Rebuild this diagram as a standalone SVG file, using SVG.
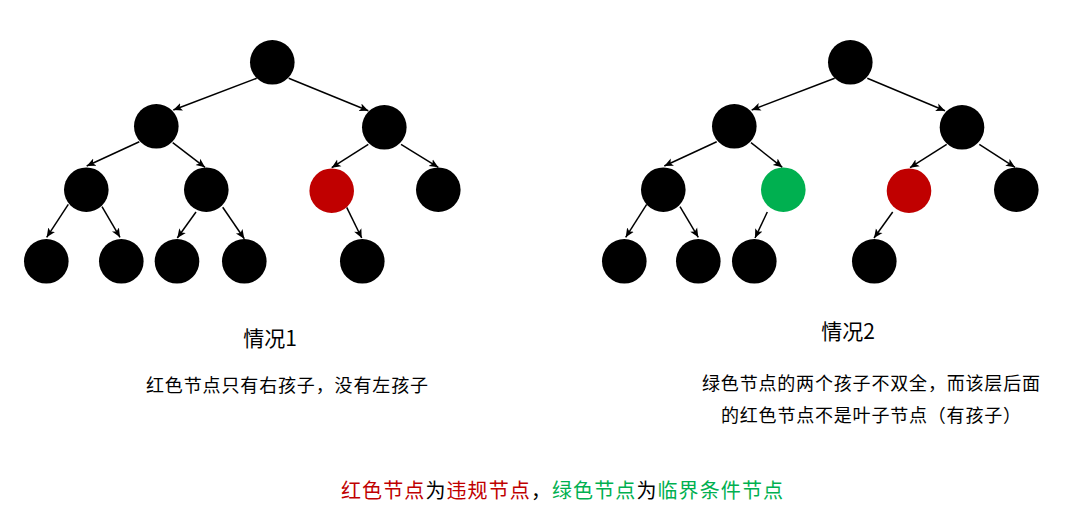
<svg xmlns="http://www.w3.org/2000/svg" width="1091" height="531" viewBox="0 0 1091 531">
<style>
.n{fill:#000}
.red{fill:#C00000}
.green{fill:#00B050}
.e{stroke:#000;stroke-width:1.5;fill:none;marker-end:url(#arr)}
text{font-family:"Noto Sans CJK SC","Microsoft YaHei",sans-serif;fill:#000}
.t{font-size:21px}
.d{font-size:18px}
.f{font-size:20px}
.tr{fill:#C00000}
.tg{fill:#00B050}
</style>
<defs>
<marker id="arr" markerUnits="userSpaceOnUse" markerWidth="10" markerHeight="10" viewBox="0 0 10 8" refX="9" refY="4" orient="auto">
<path d="M0,0 L9,4 L0,8 L2.2,4 Z" fill="#000"/>
</marker>
</defs>
<rect width="1091" height="531" fill="#fff"/>
<g id="connectors">
<line class="e" x1="256.7" y1="78.3" x2="173.3" y2="110"/>
<line class="e" x1="288.7" y1="78.3" x2="368.3" y2="110.7"/>
<line class="e" x1="139.3" y1="141.7" x2="86.7" y2="166"/>
<line class="e" x1="172.7" y1="142.7" x2="205" y2="167.3"/>
<line class="e" x1="368.3" y1="144.3" x2="331.7" y2="167.7"/>
<line class="e" x1="401" y1="144.3" x2="438.3" y2="167.3"/>
<line class="e" x1="68.3" y1="204.3" x2="46.7" y2="237.3"/>
<line class="e" x1="102" y1="206.7" x2="120" y2="237.3"/>
<line class="e" x1="196" y1="212" x2="177.3" y2="238"/>
<line class="e" x1="222.7" y1="207.3" x2="244.3" y2="238.7"/>
<line class="e" x1="346.7" y1="207.3" x2="361.7" y2="238"/>
<line class="e" x1="834.7" y1="78.3" x2="751.7" y2="110"/>
<line class="e" x1="867.3" y1="78.3" x2="945" y2="110.7"/>
<line class="e" x1="716.7" y1="141.7" x2="664.3" y2="166"/>
<line class="e" x1="751" y1="142.7" x2="782.3" y2="167.3"/>
<line class="e" x1="946.7" y1="144.3" x2="910" y2="167.7"/>
<line class="e" x1="979.3" y1="144.3" x2="1015" y2="167.3"/>
<line class="e" x1="646.7" y1="204.3" x2="625.7" y2="237.3"/>
<line class="e" x1="680" y1="206.7" x2="698.3" y2="237.3"/>
<line class="e" x1="767.3" y1="212" x2="755" y2="238"/>
<line class="e" x1="892.7" y1="212" x2="874" y2="238"/>
</g>
<g id="t1-root"><circle class="n" cx="272.3" cy="62.3" r="22.3"/></g>
<g id="t1-l1a"><circle class="n" cx="156.3" cy="126.3" r="22.3"/></g>
<g id="t1-l1b"><circle class="n" cx="384.3" cy="127.3" r="22.3"/></g>
<g id="t1-l2a"><circle class="n" cx="86.3" cy="189.7" r="22.3"/></g>
<g id="t1-l2b"><circle class="n" cx="206.3" cy="189.7" r="22.3"/></g>
<g id="t1-l2c"><circle class="red" cx="331.7" cy="190.7" r="22.3"/></g>
<g id="t1-l2d"><circle class="n" cx="438.3" cy="189.7" r="22.3"/></g>
<g id="t1-l3a"><circle class="n" cx="46.3" cy="261.3" r="22.3"/></g>
<g id="t1-l3b"><circle class="n" cx="121.3" cy="261.3" r="22.3"/></g>
<g id="t1-l3c"><circle class="n" cx="177" cy="261.3" r="22.3"/></g>
<g id="t1-l3d"><circle class="n" cx="244.3" cy="261.3" r="22.3"/></g>
<g id="t1-l3e"><circle class="n" cx="362.3" cy="261.3" r="22.3"/></g>
<g id="t2-root"><circle class="n" cx="850.3" cy="62.3" r="22.3"/></g>
<g id="t2-l1a"><circle class="n" cx="734.3" cy="126.3" r="22.3"/></g>
<g id="t2-l1b"><circle class="n" cx="962" cy="127.3" r="22.3"/></g>
<g id="t2-l2a"><circle class="n" cx="663.3" cy="189.7" r="22.3"/></g>
<g id="t2-l2b"><circle class="green" cx="783.3" cy="189.7" r="22.3"/></g>
<g id="t2-l2c"><circle class="red" cx="909" cy="190.7" r="22.3"/></g>
<g id="t2-l2d"><circle class="n" cx="1016.3" cy="189.7" r="22.3"/></g>
<g id="t2-l3a"><circle class="n" cx="624.3" cy="261.3" r="22.3"/></g>
<g id="t2-l3b"><circle class="n" cx="698.3" cy="261.3" r="22.3"/></g>
<g id="t2-l3c"><circle class="n" cx="754.3" cy="261.3" r="22.3"/></g>
<g id="t2-l3d"><circle class="n" cx="874.3" cy="261.3" r="22.3"/></g>
<g id="labels">
<text class="t" x="270" y="346" text-anchor="middle">情况1</text>
<text class="d" x="287" y="392" text-anchor="middle" textLength="282">红色节点只有右孩子，没有左孩子</text>
<text class="t" x="848" y="339" text-anchor="middle">情况2</text>
<text class="d" x="702" y="390" textLength="338">绿色节点的两个孩子不双全，而该层后面</text>
<text class="d" x="721" y="422" textLength="300">的红色节点不是叶子节点（有孩子）</text>
<text class="f" x="341" y="498" textLength="442"><tspan class="tr">红色节点</tspan>为<tspan class="tr">违规节点</tspan>，<tspan class="tg">绿色节点</tspan>为<tspan class="tg">临界条件节点</tspan></text>
</g>
</svg>
